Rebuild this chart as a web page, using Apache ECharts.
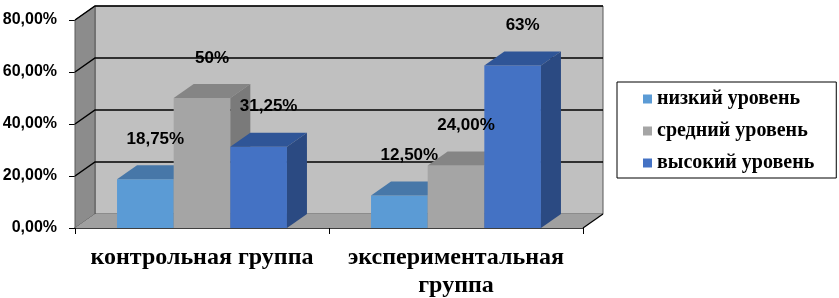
<!DOCTYPE html>
<html>
<head>
<meta charset="utf-8">
<script src="https://cdn.jsdelivr.net/npm/echarts@6/dist/echarts.min.js"></script>
<style>
  html, body { margin: 0; padding: 0; background: #fff; }
  #chart { width: 839px; height: 298px; }
</style>
</head>
<body>
<div id="chart"></div>
<script>
// Уровни по группам, проценты
const categories = ["контрольная группа", "экспериментальная\nгруппа"];
const levelNames = ["низкий уровень", "средний уровень", "высокий уровень"];
const lowValues = [18.75, 12.5];
const midValues = [50, 24];
const highValues = [31.25, 62.5];
const lowLabels = ["18,75%", "12,50%"];
const midLabels = ["50%", "24,00%"];
const highLabels = ["31,25%", "63%"];
const yTicks = [0, 20, 40, 60, 80];

// псевдо-3D: смещение глубины
const DX = 20;
const DY = -14;

const faceColors = [
  { front: "#5B9BD5", top: "#4777A8", side: "#3F6E99" },
  { front: "#A5A5A5", top: "#858585", side: "#7A7A7A" },
  { front: "#4472C4", top: "#2F5597", side: "#2B4A82" },
];

const chart = echarts.init(document.getElementById("chart"));

function barGeom(api, idx) {
  const cat = api.value(0);
  const val = api.value(1);
  const base = api.coord([cat, 0]);
  const top = api.coord([cat, val]);
  const band = api.size([1, 0])[0];
  const w = band * 0.223;
  const x0 = base[0] - 1.5 * w + idx * w;
  return { x0, w, yb: base[1], yt: top[1] };
}

function barSeries(idx, values) {
  const c = faceColors[idx];
  return {
    name: levelNames[idx],
    type: "custom",
    z: 3,
    itemStyle: { color: c.front },
    data: values.map((v, i) => [i, v]),
    encode: { x: 0, y: 1 },
    renderItem: function (params, api) {
      const g = barGeom(api, idx);
      const x1 = g.x0 + g.w;
      return {
        type: "group",
        children: [
          {
            type: "rect",
            shape: { x: g.x0, y: g.yt, width: g.w, height: g.yb - g.yt },
            style: { fill: c.front },
          },
          {
            type: "polygon",
            shape: { points: [[g.x0, g.yt], [x1, g.yt], [x1 + DX, g.yt + DY], [g.x0 + DX, g.yt + DY]] },
            style: { fill: c.top },
          },
          {
            type: "polygon",
            shape: { points: [[x1, g.yt], [x1, g.yb], [x1 + DX, g.yb + DY], [x1 + DX, g.yt + DY]] },
            style: { fill: c.side },
          },
        ],
      };
    },
  };
}

function labelSeries(idx, values, labels) {
  return {
    name: "labels-" + idx,
    type: "custom",
    z: 6,
    silent: true,
    data: values.map((v, i) => [i, v]),
    encode: { x: 0, y: 1 },
    renderItem: function (params, api) {
      const g = barGeom(api, idx);
      return {
        type: "text",
        x: g.x0 + g.w / 2 + 10,
        y: g.yt - 40,
        style: {
          text: labels[params.dataIndex],
          fill: "#000",
          font: 'bold 17px "Liberation Sans", Arial, sans-serif',
          align: "center",
          verticalAlign: "middle",
        },
      };
    },
  };
}

// стенки, пол и линии сетки
const wallSeries = {
  name: "walls",
  type: "custom",
  z: 1,
  silent: true,
  data: [[0, 0]],
  encode: { x: 0, y: 1 },
  renderItem: function (params, api) {
    const cs = params.coordSys;
    const L = cs.x, R = cs.x + cs.width, T = cs.y, B = cs.y + cs.height;
    const kids = [
      {
        type: "rect",
        shape: { x: L + DX, y: T + DY, width: R - L, height: B - T },
        style: { fill: "#C0C0C0", stroke: "#595959", lineWidth: 1 },
      },
      {
        type: "polygon",
        shape: { points: [[L, B], [L, T], [L + DX, T + DY], [L + DX, B + DY]] },
        style: { fill: "#8C8C8C", stroke: "#595959", lineWidth: 1 },
      },
      {
        type: "polygon",
        shape: { points: [[L, B], [R, B], [R + DX, B + DY], [L + DX, B + DY]] },
        style: { fill: "#A0A0A0" },
      },
      {
        type: "line",
        shape: { x1: R, y1: B, x2: R + DX, y2: B + DY },
        style: { stroke: "#000", lineWidth: 1.2 },
      },
    ];
    yTicks.forEach(function (v) {
      if (v === 0) return;
      const y = api.coord([0, v])[1];
      kids.push({
        type: "polyline",
        shape: { points: [[L, y], [L + DX, y + DY], [R + DX, y + DY]] },
        style: { stroke: "#000", lineWidth: 1.5, fill: null },
      });
    });
    return { type: "group", children: kids };
  },
};

const option = {
  animation: false,
  backgroundColor: "#fff",
  grid: { left: 75, right: 256, top: 20, bottom: 70, outerBoundsMode: "none", containLabel: false },
  legend: {
    data: levelNames,
    orient: "vertical",
    left: 617,
    top: 82,
    padding: [7, 22, 5, 26],
    itemWidth: 9,
    itemHeight: 9,
    itemGap: 12,
    icon: "rect",
    borderColor: "#000",
    borderWidth: 1,
    textStyle: {
      fontFamily: '"Liberation Serif", "Times New Roman", serif',
      fontWeight: "bold",
      fontSize: 20,
      color: "#000",
    },
  },
  xAxis: {
    type: "category",
    data: categories,
    axisLine: { show: true, lineStyle: { color: "#000", width: 1.5 } },
    axisTick: { show: true, length: 6, lineStyle: { color: "#000" } },
    axisLabel: {
      interval: 0,
      hideOverlap: false,
      color: "#000",
      fontFamily: '"Liberation Serif", "Times New Roman", serif',
      fontWeight: "bold",
      fontSize: 24,
      lineHeight: 28,
      margin: 16,
    },
  },
  yAxis: {
    type: "value",
    min: 0,
    max: 80,
    interval: 20,
    axisLine: { show: true, lineStyle: { color: "#595959" } },
    axisTick: { show: true, length: 6, lineStyle: { color: "#000" } },
    splitLine: { show: false },
    axisLabel: {
      color: "#000",
      fontFamily: '"Liberation Sans", Arial, sans-serif',
      fontWeight: "bold",
      fontSize: 16,
      margin: 18,
      formatter: function (v) {
        return v.toFixed(2).replace(".", ",") + "%";
      },
    },
  },
  series: [
    wallSeries,
    barSeries(0, lowValues),
    barSeries(1, midValues),
    barSeries(2, highValues),
    labelSeries(0, lowValues, lowLabels),
    labelSeries(1, midValues, midLabels),
    labelSeries(2, highValues, highLabels),
  ],
};

chart.setOption(option);
</script>
</body>
</html>
